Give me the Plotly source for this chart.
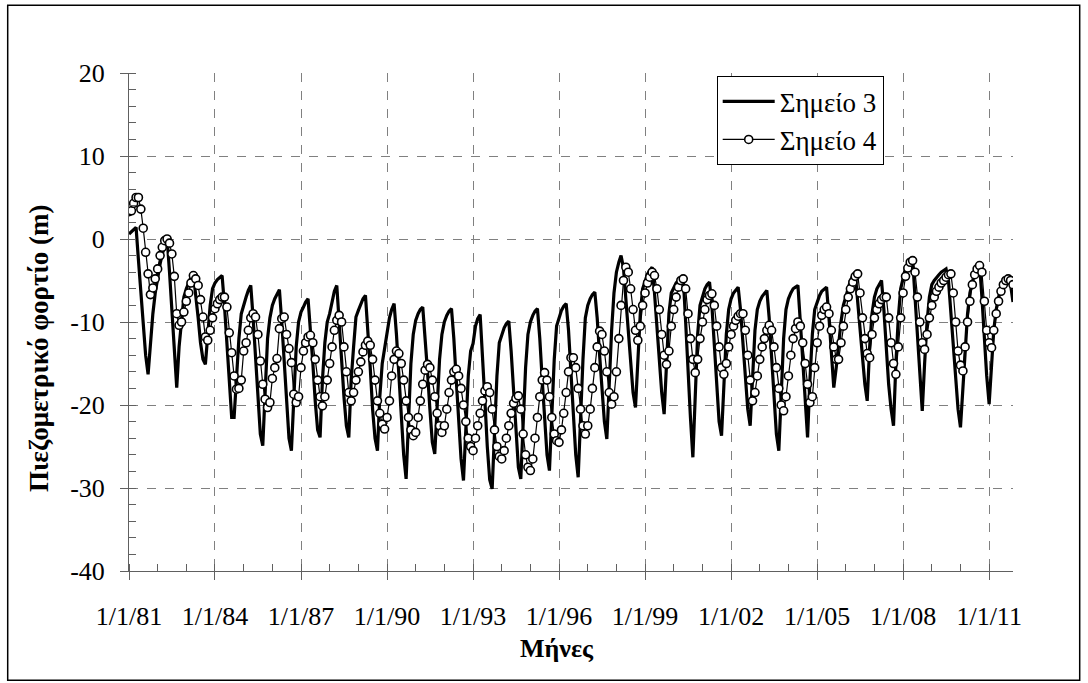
import pandas as pd
import plotly.graph_objects as go

start_month = "1981-01-01"
series_names = ["Σημείο 3", "Σημείο 4"]

# Σημείο 3 monthly values (one row per year, 1981..2011)
point3 = [
    0.6, 0.9, 1.2, 1.4, -2.5, -6.5, -10.5, -14.0, -16.3, -12.5, -9.0, -6.5,
    -4.5, -3.0, -1.8, -0.7, 0.2, -4.0, -9.0, -14.0, -17.9, -13.0, -9.5, -7.0,
    -6.0, -5.2, -4.6, -4.2, -6.5, -9.5, -12.5, -14.5, -15.1, -11.0, -8.0, -6.0,
    -5.3, -4.9, -4.6, -4.4, -8.0, -13.0, -17.5, -21.5, -21.5, -16.0, -12.0, -9.0,
    -7.8, -7.0, -6.2, -5.6, -9.5, -14.5, -19.5, -23.5, -24.9, -17.5, -12.0, -9.5,
    -8.0, -7.2, -6.6, -6.1, -10.0, -15.0, -20.0, -24.0, -25.5, -18.5, -13.0, -10.0,
    -8.8, -8.2, -7.6, -7.2, -10.5, -15.0, -19.5, -23.0, -23.9, -17.0, -12.5, -10.0,
    -9.0, -7.5, -6.3, -5.6, -9.5, -14.5, -19.0, -22.5, -23.9, -17.0, -13.0, -9.4,
    -8.6, -7.8, -7.2, -6.8, -10.5, -15.5, -20.5, -24.0, -25.5, -19.0, -15.0, -13.0,
    -11.0, -9.5, -8.5, -7.8, -11.5, -16.5, -21.5, -26.0, -28.9, -21.0, -15.0, -11.5,
    -9.8, -9.0, -8.5, -8.2, -11.5, -16.0, -20.5, -24.5, -25.9, -19.5, -14.5, -11.5,
    -10.0, -9.2, -8.7, -8.4, -12.0, -17.0, -22.0, -26.5, -29.1, -22.5, -16.5, -13.5,
    -12.6, -10.5, -9.6, -9.1, -13.5, -19.5, -25.0, -29.0, -30.1, -22.5, -16.5, -12.5,
    -11.5, -10.7, -10.2, -9.9, -13.5, -18.5, -23.5, -27.5, -28.9, -21.5, -15.5, -11.5,
    -10.0, -9.2, -8.7, -8.4, -12.0, -17.0, -22.0, -26.0, -27.9, -20.5, -14.5, -10.5,
    -9.5, -8.6, -8.1, -7.8, -11.0, -16.0, -21.5, -26.0, -28.7, -21.0, -14.5, -9.5,
    -8.0, -7.2, -6.7, -6.4, -9.5, -14.0, -18.5, -22.0, -24.1, -17.0, -11.0, -6.5,
    -4.0, -2.8, -2.0, -3.5, -7.5, -11.5, -15.5, -18.5, -20.3, -14.0, -9.0, -6.0,
    -5.0, -4.2, -3.8, -3.4, -6.5, -10.5, -15.0, -18.5, -21.1, -14.0, -9.0, -6.5,
    -5.8, -5.3, -5.0, -4.8, -4.6, -10.0, -16.0, -21.5, -26.3, -18.0, -11.5, -8.0,
    -6.8, -6.0, -5.5, -5.2, -8.0, -13.0, -18.0, -22.0, -23.7, -17.0, -11.5, -8.5,
    -7.2, -6.5, -6.1, -5.8, -8.5, -13.0, -17.0, -20.5, -22.5, -16.0, -11.0, -8.5,
    -7.5, -6.9, -6.5, -6.2, -9.5, -14.5, -19.5, -23.5, -25.5, -18.0, -12.0, -8.5,
    -7.2, -6.5, -6.0, -5.8, -5.6, -10.0, -15.0, -20.0, -23.9, -17.0, -11.5, -8.5,
    -7.5, -6.8, -6.3, -6.0, -5.8, -9.5, -14.0, -17.9, -15.5, -12.5, -10.0, -8.0,
    -7.0, -6.0, -5.0, -4.4, -4.0, -7.5, -11.0, -14.5, -17.5, -19.5, -13.0, -9.0,
    -7.0, -6.0, -5.5, -5.0, -8.5, -13.0, -17.5, -20.5, -22.5, -15.0, -9.5, -6.0,
    -4.5, -3.5, -2.9, -2.6, -2.4, -7.0, -12.0, -17.0, -20.7, -15.0, -10.0, -7.0,
    -5.5, -5.0, -4.6, -4.3, -4.0, -3.8, -3.6, -5.0, -9.0, -13.0, -17.0, -20.5,
    -22.7, -17.5, -12.5, -9.0, -6.5, -5.0, -4.0, -3.4, -3.0, -7.0, -12.0, -16.5,
    -19.9, -15.0, -11.0, -8.5, -7.0, -6.0, -5.4, -5.0, -4.6, -5.5, -7.6,
]

# Σημείο 4 monthly values (one row per year, 1981..2011)
point4 = [
    3.3, 3.4, 4.3, 5.0, 5.0, 3.6, 1.3, -1.6, -4.2, -6.7, -5.9, -4.8,
    -3.6, -2.0, -1.0, -0.2, 0.0, -0.5, -1.8, -4.5, -9.0, -10.4, -10.0, -8.8,
    -7.5, -6.5, -5.3, -4.4, -4.8, -5.6, -7.3, -9.4, -11.8, -12.2, -11.0, -9.5,
    -8.4, -7.8, -7.3, -7.0, -7.0, -8.2, -11.3, -13.7, -16.5, -18.1, -18.0, -17.0,
    -13.5, -12.5, -11.0, -9.5, -9.0, -9.4, -11.5, -14.7, -17.5, -19.3, -20.3, -19.7,
    -16.8, -15.5, -14.4, -10.8, -9.6, -9.4, -11.5, -13.2, -14.9, -18.7, -19.7, -19.0,
    -15.5, -13.5, -12.5, -11.8, -11.6, -12.5, -14.5, -17.0, -19.0, -20.1, -19.0, -17.0,
    -15.0, -13.0, -11.0, -9.8, -9.2, -10.0, -13.0, -16.0, -18.5, -19.5, -18.5, -17.0,
    -16.0, -14.8, -13.6, -12.8, -12.3, -12.8, -14.5, -17.0, -19.5, -21.0, -22.3, -22.9,
    -21.5, -19.5, -16.5, -14.5, -13.5, -13.8, -15.0, -17.0, -19.5, -21.5, -23.0, -23.7,
    -23.3, -21.5, -19.5, -17.5, -15.8, -15.1, -15.5, -17.0, -19.0, -21.0, -22.5, -23.3,
    -22.5, -20.5, -18.5, -17.0, -16.0, -15.7, -16.5, -18.0, -20.0, -22.0, -24.0, -25.0,
    -25.5, -24.0, -22.5, -21.0, -19.5, -18.3, -17.8, -18.5, -20.5, -23.0, -25.0, -26.2,
    -26.5, -25.5, -24.0, -22.5, -21.0, -19.8, -19.2, -18.9, -20.5, -23.5, -26.0, -27.5,
    -27.9, -26.5, -24.0, -21.5, -19.0, -17.0, -16.1, -17.0, -19.0, -21.5, -23.5, -24.3,
    -24.5, -23.0, -21.0, -18.5, -16.0, -14.3, -14.3, -15.5, -18.0, -20.5, -22.5, -23.5,
    -22.5, -20.5, -18.0, -15.5, -13.0, -11.1, -11.5, -13.5, -16.0, -18.5, -19.9, -19.0,
    -16.0, -12.0, -8.0, -5.0, -3.4, -4.0, -6.0, -8.5, -11.0, -12.2, -10.5, -8.0,
    -6.5, -5.3, -4.6, -4.0, -4.4, -6.0, -8.5, -11.5, -14.0, -15.1, -13.5, -10.5,
    -8.5, -7.0, -5.8, -5.0, -4.8, -6.0, -9.0, -12.0, -14.5, -16.1, -14.5, -12.0,
    -10.0, -8.5, -7.3, -6.8, -6.6, -8.0, -10.5, -13.0, -15.5, -16.3, -15.0, -13.0,
    -11.5, -10.5, -9.8, -9.3, -9.0, -9.0, -11.0, -14.0, -17.0, -19.5, -18.5, -16.5,
    -14.5, -13.0, -12.0, -11.0, -10.4, -11.0, -13.0, -15.5, -18.0, -20.0, -20.7, -19.0,
    -16.5, -14.0, -12.0, -10.8, -10.0, -10.5, -12.5, -15.0, -17.5, -19.7, -19.0, -15.5,
    -12.5, -10.5, -9.2, -8.5, -8.2, -9.0, -11.0, -13.0, -14.5, -14.5, -12.5, -10.5,
    -8.5, -7.0, -6.0, -5.2, -4.5, -4.2, -6.5, -9.5, -12.0, -13.8, -14.3, -11.5,
    -9.5, -8.5, -7.8, -7.3, -7.0, -7.0, -9.5, -12.5, -15.0, -16.3, -13.0, -9.5,
    -6.5, -4.5, -3.5, -2.8, -2.6, -4.0, -7.0, -10.0, -12.5, -13.3, -11.5, -9.5,
    -8.0, -7.0, -6.3, -5.8, -5.3, -5.0, -4.6, -4.3, -4.2, -6.5, -10.0, -13.5,
    -15.2, -15.9, -13.0, -10.0, -7.5, -5.5, -4.3, -3.6, -3.2, -4.0, -7.5, -11.0,
    -12.5, -13.1, -11.0, -9.0, -7.5, -6.3, -5.5, -5.0, -4.8, -5.0, -5.5,
]

y_tick_values = [-40, -30, -20, -10, 0, 10, 20]
y_tick_labels = ["-40", "-30", "-20", "-10", "0", "10", "20"]

y_title = "Πιεζομετρικό φορτίο (m)"
x_title = "Μήνες"
x_range = ["1981-01-01", "2011-11-01"]

dates3 = pd.date_range(start_month, periods=len(point3), freq="MS")
dates4 = pd.date_range(start_month, periods=len(point4), freq="MS")

W, H = 1088, 683
L, R, T, B = 129.3, 1013.3, 72.7, 570.7
pw, ph = R - L, B - T

def px(x):
    return (x - L) / pw

def py(y):
    return (B - y) / ph

FONT = "Liberation Serif"
AXC = "#606060"

fig = go.Figure()
fig.add_trace(go.Scatter(
    x=dates3, y=point3, name=series_names[0], mode="lines",
    line=dict(color="black", width=3.2),
))
fig.add_trace(go.Scatter(
    x=dates4, y=point4, name=series_names[1], mode="lines+markers",
    line=dict(color="black", width=1.2),
    marker=dict(symbol="circle", size=8, color="white",
                line=dict(color="black", width=1.6)),
))
# empty helper trace so the overlay axis (inner half of crossing ticks) is drawn
fig.add_trace(go.Scatter(x=[], y=[], xaxis="x2", showlegend=False,
                         hoverinfo="skip"))

fig.update_layout(
    width=W, height=H, autosize=False,
    margin=dict(l=L, r=W - R, t=T, b=H - B, pad=0),
    paper_bgcolor="white", plot_bgcolor="white",
    font=dict(family=FONT, size=26, color="black"),
    showlegend=True,
    legend=dict(
        x=px(717), y=py(76), xanchor="left", yanchor="top",
        bgcolor="white", bordercolor="black", borderwidth=1,
        font=dict(family=FONT, size=27, color="black"),
        tracegroupgap=0, itemwidth=52,
    ),
    xaxis2=dict(
        type="date", range=x_range, overlaying="x", anchor="y", side="bottom",
        tick0=start_month, dtick="M36", ticks="inside", ticklen=5,
        tickcolor=AXC, showticklabels=False, showgrid=False,
        showline=False, zeroline=False,
    ),
)

fig.layout.xaxis.update(
    type="date",
    range=x_range,
    tick0=start_month, dtick="M36", tickformat="%-m/%-d/%y",
    showgrid=True, gridcolor="#808080", griddash="dash", gridwidth=1,
    showline=True, linecolor=AXC, linewidth=1,
    ticks="outside", ticklen=8, tickcolor=AXC, ticklabelstandoff=14,
    tickfont=dict(family=FONT, size=26, color="black"),
    minor=dict(dtick="M12", tick0=start_month, ticks="inside", ticklen=7,
               tickcolor=AXC, showgrid=False),
    zeroline=False, mirror=False,
)
fig.update_yaxes(
    range=[-40, 20],
    tickmode="array", tickvals=y_tick_values, ticktext=y_tick_labels,
    showgrid=True, gridcolor="#808080", griddash="dash", gridwidth=1,
    showline=True, linecolor=AXC, linewidth=1,
    ticks="outside", ticklen=8, tickcolor=AXC, ticklabelstandoff=10,
    tickfont=dict(family=FONT, size=26, color="black"),
    minor=dict(tickmode="linear", tick0=0, dtick=2, ticks="inside",
               ticklen=7, tickcolor=AXC, showgrid=False),
    zeroline=False, mirror=False,
)

fig.add_annotation(
    text="<b>" + y_title + "</b>", xref="paper", yref="paper",
    x=px(40), y=py(348), textangle=-90, showarrow=False,
    font=dict(family=FONT, size=27, color="black"),
    xanchor="center", yanchor="middle",
)
fig.add_annotation(
    text="<b>" + x_title + "</b>", xref="paper", yref="paper",
    x=px(557), y=py(648), showarrow=False,
    font=dict(family=FONT, size=26, color="black"),
    xanchor="center", yanchor="middle",
)

fig.add_shape(
    type="rect", xref="paper", yref="paper",
    x0=px(8), x1=px(1080), y0=py(680), y1=py(5),
    line=dict(color="black", width=1.5), fillcolor="rgba(0,0,0,0)",
    layer="below",
)

fig.write_html("out.html")
